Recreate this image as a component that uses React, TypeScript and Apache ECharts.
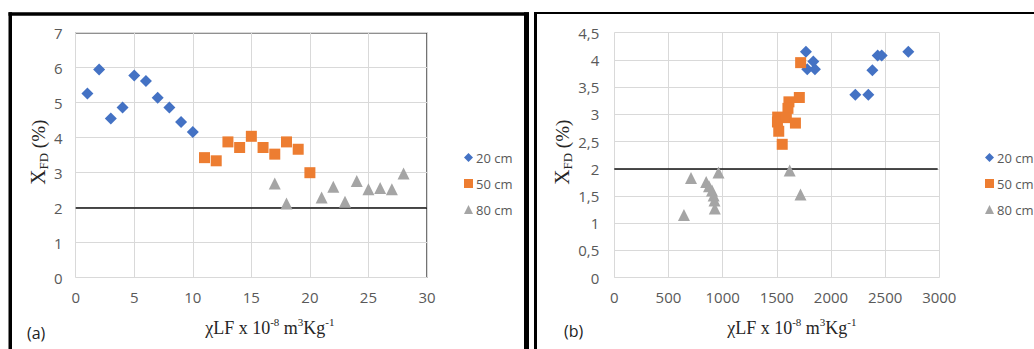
import React, { useEffect, useRef } from "react";
import * as echarts from "echarts";

// Panel (a)
const aX20 = [1, 2, 3, 4, 5, 6, 7, 8, 9, 10];
const aY20 = [5.26, 5.95, 4.55, 4.86, 5.78, 5.62, 5.14, 4.86, 4.45, 4.16];
const aX50 = [11, 12, 13, 14, 15, 16, 17, 18, 19, 20];
const aY50 = [3.43, 3.34, 3.88, 3.72, 4.04, 3.72, 3.53, 3.88, 3.67, 3.0];
const aX80 = [17, 18, 21, 22, 23, 24, 25, 26, 27, 28];
const aY80 = [2.69, 2.12, 2.29, 2.6, 2.17, 2.76, 2.53, 2.56, 2.53, 2.98];

// Panel (b)
const bX20 = [1769, 1837, 1781, 1852, 2225, 2345, 2382, 2431, 2468, 2714];
const bY20 = [4.15, 3.97, 3.83, 3.83, 3.36, 3.36, 3.81, 4.08, 4.08, 4.15];
const bX50 = [1720, 1708, 1612, 1603, 1508, 1506, 1588, 1672, 1518, 1550];
const bY50 = [3.95, 3.31, 3.23, 3.11, 2.95, 2.86, 2.94, 2.84, 2.69, 2.45];
const bX80 = [643, 708, 848, 874, 902, 917, 925, 928, 962, 1619, 1719];
const bY80 = [1.15, 1.83, 1.76, 1.68, 1.6, 1.51, 1.42, 1.27, 1.93, 1.97, 1.53];

const seriesNames = ["20 cm", "50 cm", "80 cm"];
const colors = ["#4472C4", "#ED7D31", "#A5A5A5"];
const symbols = ["diamond", "rect", "triangle"];
const threshold = 2;

const zip = (xs: number[], ys: number[]) => xs.map((x, i) => [x, ys[i]]);

const GA = { left: 75.7, top: 32.7, width: 351.3, height: 245 };
const GB = { left: 614.3, top: 32.7, width: 325, height: 245 };

const tickFont = "'Open Sans', 'Liberation Sans', sans-serif";
const serif = "'Liberation Serif', 'Times New Roman', serif";

function yName() {
  return {
    name: "{x|X}{s|FD}{t| (%)}",
    nameLocation: "middle" as const,
    nameRotate: 90,
    nameGap: 21,
    nameTextStyle: {
      padding: [0, 0, 0, 6],
      rich: {
        x: { fontFamily: serif, fontSize: 21, color: "#262626", lineHeight: 24, verticalAlign: "middle" },
        s: { fontFamily: serif, fontSize: 13, color: "#262626", lineHeight: 24, verticalAlign: "bottom" },
        t: { fontFamily: serif, fontSize: 19, color: "#262626", lineHeight: 24, verticalAlign: "middle" },
      },
    },
  };
}

function xName(shift: number) {
  const m = { fontFamily: serif, fontSize: 18, color: "#262626", lineHeight: 22, verticalAlign: "middle" };
  const sup = { fontFamily: serif, fontSize: 11, color: "#262626", lineHeight: 22, verticalAlign: "top" };
  return {
    name: "{m|χLF x 10}{p|-8}{m| m}{p|3}{m|Kg}{p|-1}",
    nameLocation: "middle" as const,
    nameGap: 39,
    nameTextStyle: { padding: [0, 0, 0, shift], rich: { m, p: sup } },
  };
}

const axisCommon = {
  axisLine: { show: false },
  axisTick: { show: false },
  splitLine: { show: true, lineStyle: { color: "#d9d9d9", width: 1 } },
};

const labelStyle = {
  fontFamily: tickFont,
  fontSize: 15,
  color: "#595959",
};

export default function App() {
  const ref = useRef<HTMLDivElement>(null);
  useEffect(() => {
    document.body.style.margin = "0";
    const chart = echarts.init(ref.current!, null, { renderer: "svg" });
    const dataA = [zip(aX20, aY20), zip(aX50, aY50), zip(aX80, aY80)];
    const dataB = [zip(bX20, bY20), zip(bX50, bY50), zip(bX80, bY80)];
    const sizes = [12, 11, 12];
    const xEnds = [30, 2985];
    const series: any[] = [];
    [dataA, dataB].forEach((d, gi) => {
      d.forEach((pts, si) => {
        series.push({
          type: "scatter",
          name: seriesNames[si],
          xAxisIndex: gi,
          yAxisIndex: gi,
          data: pts,
          symbol: symbols[si],
          symbolSize: sizes[si],
          itemStyle: { color: colors[si], opacity: 1 },
          z: 3 + si,
          markLine:
            si === 0
              ? {
                  silent: true,
                  symbol: "none",
                  label: { show: false },
                  lineStyle: { color: "#111", type: "solid", width: 1.5 },
                  data: [[{ coord: [0, threshold] }, { coord: [xEnds[gi], threshold] }]],
                }
              : undefined,
        });
      });
    });
    const legendCommon = {
      orient: "vertical" as const,
      data: seriesNames,
      itemWidth: 9,
      itemHeight: 9,
      itemGap: 13,
      selectedMode: false,
      textStyle: { fontFamily: tickFont, fontSize: 13, color: "#595959", padding: [0, 0, 0, -2] },
    };
    const line = (x1: number, y1: number, x2: number, y2: number, w: number, c = "#000") => ({
      type: "line",
      shape: { x1, y1, x2, y2 },
      style: { stroke: c, lineWidth: w },
      silent: true,
    });
    chart.setOption({
      animation: false,
      backgroundColor: "#fff",
      grid: [
        { ...GA, containLabel: false },
        { ...GB, containLabel: false },
      ],
      xAxis: [
        {
          type: "value",
          gridIndex: 0,
          min: 0,
          max: 30,
          interval: 5,
          ...axisCommon,
          axisLabel: { ...labelStyle, margin: 12, formatter: (v: number) => String(v) },
          ...xName(37),
        },
        {
          type: "value",
          gridIndex: 1,
          min: 0,
          max: 3000,
          interval: 500,
          ...axisCommon,
          axisLabel: { ...labelStyle, margin: 12, formatter: (v: number) => String(v) },
          ...xName(30),
        },
      ],
      yAxis: [
        {
          type: "value",
          gridIndex: 0,
          min: 0,
          max: 7,
          interval: 1,
          ...axisCommon,
          axisLabel: { ...labelStyle, margin: 13, formatter: (v: number) => String(v) },
          ...yName(),
        },
        {
          type: "value",
          gridIndex: 1,
          min: 0,
          max: 4.5,
          interval: 0.5,
          ...axisCommon,
          axisLabel: {
            ...labelStyle,
            margin: 15,
            formatter: (v: number) => String(v).replace(".", ","),
          },
          ...yName(),
        },
      ],
      legend: [
        { ...legendCommon, left: 459, top: 146 },
        { ...legendCommon, left: 980, top: 146 },
      ],
      series,
      graphic: [
        // panel (a) frame
        line(10.25, 12.3, 10.25, 349, 3.5),
        line(8.5, 14, 529, 14, 3.5),
        line(526.5, 12.3, 526.5, 349, 5),
        // panel (b) frame
        line(535.5, 12, 535.5, 349, 3),
        line(534, 13, 1034, 13, 2),
        // dark top & right edge of plot (a)
        line(GA.left, GA.top, GA.left + GA.width, GA.top, 1.5, "#222"),
        line(GA.left + GA.width, GA.top, GA.left + GA.width, GA.top + GA.height, 1.5, "#444"),
        {
          type: "text",
          left: 27,
          top: 325,
          style: { text: "(a)", fontFamily: tickFont, fontSize: 16, fill: "#222" },
        },
        {
          type: "text",
          left: 564,
          top: 323,
          style: { text: "(b)", fontFamily: tickFont, fontSize: 16, fill: "#222" },
        },
      ],
    });
    return () => chart.dispose();
  }, []);
  return <div ref={ref} style={{ width: 1034, height: 349 }} />;
}
